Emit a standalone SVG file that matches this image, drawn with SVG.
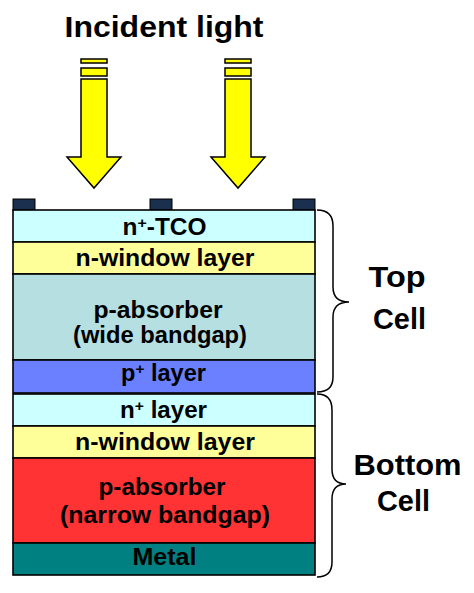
<svg xmlns="http://www.w3.org/2000/svg" width="474" height="593" viewBox="0 0 474 593">
<style>
.t{font-family:"Liberation Sans",Arial,Helvetica,sans-serif;font-weight:bold;fill:#000;text-anchor:middle}
.l{font-size:23px}
.big{font-size:29px}
.lay{stroke:#000;stroke-width:1.6}
.ct{fill:#1b2f4f;stroke:#000;stroke-width:1}
.arr{fill:#ffff00;stroke:#000;stroke-width:1.5;stroke-linejoin:miter}
.br{fill:none;stroke:#000;stroke-width:1.5}
</style>
<rect width="474" height="593" fill="#fff"/>
<g id="title"><text class="t big" x="164" y="37" textLength="199" lengthAdjust="spacingAndGlyphs">Incident light</text></g>
<g id="arrow-left">
<rect class="arr" x="81" y="59" width="26" height="4"/>
<rect class="arr" x="81" y="68" width="26" height="8"/>
<path class="arr" d="M81 79 L107 79 L107 157 L121 157 L94 188 L67 157 L81 157 Z"/>
</g>
<g id="arrow-right">
<rect class="arr" x="225" y="59" width="26" height="4"/>
<rect class="arr" x="225" y="68" width="26" height="8"/>
<path class="arr" d="M225 79 L251 79 L251 157 L265 157 L238 188 L211 157 L225 157 Z"/>
</g>
<g id="contacts">
<rect class="ct" x="13" y="199" width="22" height="11"/>
<rect class="ct" x="150" y="199" width="22" height="11"/>
<rect class="ct" x="293" y="199" width="22" height="11"/>
</g>
<g id="n-tco"><rect class="lay" x="13" y="210" width="302" height="32" fill="#ccffff"/>
<text class="t l" x="164.5" y="234.5" textLength="84" lengthAdjust="spacingAndGlyphs">n<tspan font-size="15" dy="-7">+</tspan><tspan dy="7">-TCO</tspan></text></g>
<g id="n-window-top"><rect class="lay" x="13" y="242" width="302" height="32" fill="#ffff99"/>
<text class="t l" x="165" y="266" textLength="179" lengthAdjust="spacingAndGlyphs">n-window layer</text></g>
<g id="p-absorber-wide"><rect class="lay" x="13" y="274" width="302" height="86" fill="#b5dfe0"/>
<text class="t l" x="158" y="318" textLength="129" lengthAdjust="spacingAndGlyphs">p-absorber</text>
<text class="t l" x="160" y="343" textLength="174" lengthAdjust="spacingAndGlyphs">(wide bandgap)</text></g>
<g id="p-plus"><rect class="lay" x="13" y="360" width="302" height="33" fill="#6b80ff"/>
<text class="t l" x="163.5" y="381" textLength="85" lengthAdjust="spacingAndGlyphs">p<tspan font-size="15" dy="-7">+</tspan><tspan dy="7"> layer</tspan></text></g>
<g id="n-plus"><rect class="lay" x="13" y="394" width="302" height="32" fill="#ccffff"/>
<text class="t l" x="163.5" y="418" textLength="87" lengthAdjust="spacingAndGlyphs">n<tspan font-size="15" dy="-7">+</tspan><tspan dy="7"> layer</tspan></text></g>
<g id="n-window-bottom"><rect class="lay" x="13" y="426" width="302" height="32" fill="#ffff99"/>
<text class="t l" x="165" y="450" textLength="180" lengthAdjust="spacingAndGlyphs">n-window layer</text></g>
<g id="p-absorber-narrow"><rect class="lay" x="13" y="458" width="302" height="85" fill="#ff3333"/>
<text class="t l" x="162" y="495" textLength="127" lengthAdjust="spacingAndGlyphs">p-absorber</text>
<text class="t l" x="165" y="523" textLength="210" lengthAdjust="spacingAndGlyphs">(narrow bandgap)</text></g>
<g id="metal"><rect class="lay" x="13" y="543" width="302" height="32" fill="#008080"/>
<text class="t l" x="164.5" y="564.5" textLength="64" lengthAdjust="spacingAndGlyphs">Metal</text></g>
<g id="connectors">
<path class="br" d="M317 210 Q333 210 333 226 L333 287 Q333 302 349 302 Q333 302 333 317 L333 377 Q333 392 317 392"/>
<path class="br" d="M317 394 Q332 394 332 410 L332 469 Q332 484 346 484 Q332 484 332 499 L332 562 Q332 577 317 577"/>
</g>
<g id="top-cell-label">
<text class="t big" x="397" y="287" textLength="57" lengthAdjust="spacingAndGlyphs">Top</text>
<text class="t big" x="399.5" y="329" textLength="53" lengthAdjust="spacingAndGlyphs">Cell</text>
</g>
<g id="bottom-cell-label">
<text class="t big" x="407.5" y="475" textLength="108" lengthAdjust="spacingAndGlyphs">Bottom</text>
<text class="t big" x="403.5" y="511" textLength="53" lengthAdjust="spacingAndGlyphs">Cell</text>
</g>
</svg>
